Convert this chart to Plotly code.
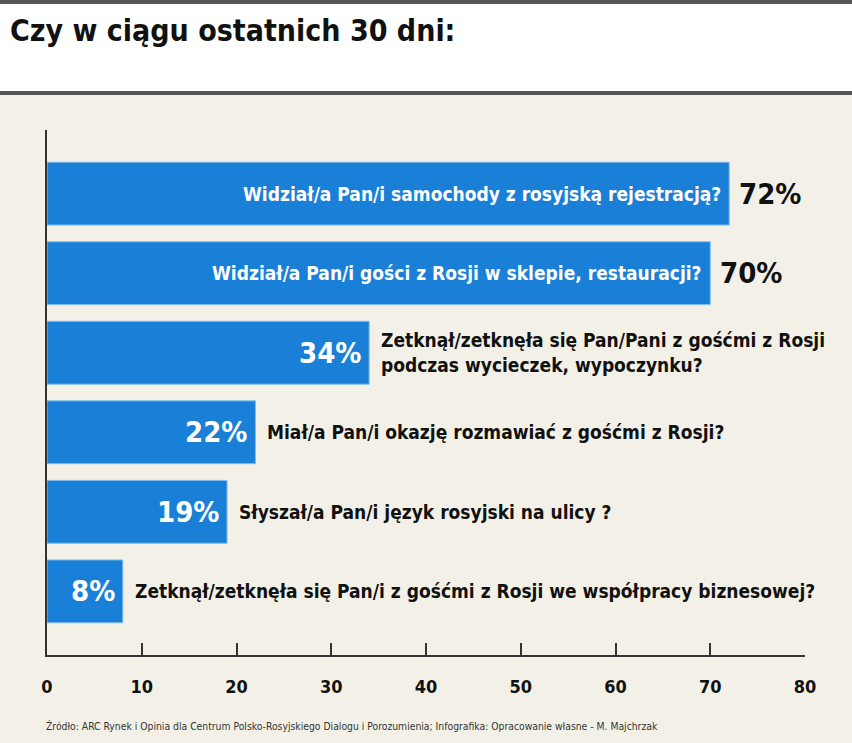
import plotly.graph_objects as go

questions = [
    "Widział/a Pan/i samochody z rosyjską rejestracją?",
    "Widział/a Pan/i gości z Rosji w sklepie, restauracji?",
    "Zetknął/zetknęła się Pan/Pani z gośćmi z Rosji<br>podczas wycieczek, wypoczynku?",
    "Miał/a Pan/i okazję rozmawiać z gośćmi z Rosji?",
    "Słyszał/a Pan/i język rosyjski na ulicy ?",
    "Zetknął/zetknęła się Pan/i z gośćmi z Rosji we współpracy biznesowej?",
]
values = [72, 70, 34, 22, 19, 8]
tick_values = [0, 10, 20, 30, 40, 50, 60, 70, 80]
title_text = "Czy w ciągu ostatnich 30 dni:"
source_text = ("Źródło: ARC Rynek i Opinia dla Centrum Polsko-Rosyjskiego Dialogu i Porozumienia; "
               "Infografika: Opracowanie własne - M. Majchrzak")

W, H = 852, 743
ML, MR, MT, MB = 47, 47, 130, 88
BLUE = "#1a7fd6"
BG = "#f3f1e7"
FONT = "DejaVu Sans Condensed, Liberation Sans Narrow, Arial Narrow, sans-serif"

def py(p):
    return (H - MB - p) / (H - MT - MB)

def px(p):
    return (p - ML) / (W - ML - MR)

pos = list(range(len(questions)))

fig = go.Figure()
fig.add_trace(go.Bar(
    x=values, y=pos, orientation="h", width=0.79,
    marker=dict(color=BLUE, line=dict(color="#7fbdf0", width=1)),
    hoverinfo="skip",
))

annotations = []
for i, (q, v) in enumerate(zip(questions, values)):
    if v > 50:
        annotations.append(dict(x=v, y=i, xref="x", yref="y", text="<b>%s</b>" % q,
                                showarrow=False, xanchor="right", xshift=-6,
                                font=dict(family=FONT, size=19, color="white")))
        annotations.append(dict(x=v, y=i, xref="x", yref="y", text="<b>%d%%</b>" % v,
                                showarrow=False, xanchor="left", xshift=8,
                                font=dict(family=FONT, size=29, color="#111")))
    else:
        annotations.append(dict(x=v, y=i, xref="x", yref="y", text="<b>%d%%</b>" % v,
                                showarrow=False, xanchor="right", xshift=-6,
                                font=dict(family=FONT, size=29, color="white")))
        annotations.append(dict(x=v, y=i, xref="x", yref="y", text="<b>%s</b>" % q,
                                showarrow=False, xanchor="left", xshift=10, align="left",
                                font=dict(family=FONT, size=19, color="#111")))

annotations.append(dict(x=px(8), y=py(31), xref="paper", yref="paper", text="<b>%s</b>" % title_text,
                        showarrow=False, xanchor="left", yanchor="middle",
                        font=dict(family=FONT, size=30, color="#111")))
annotations.append(dict(x=px(44), y=py(726), xref="paper", yref="paper", text=source_text,
                        showarrow=False, xanchor="left", yanchor="middle",
                        font=dict(family=FONT, size=10.3, color="#333")))

shapes = [
    dict(type="rect", xref="paper", yref="paper", x0=px(0), x1=px(W), y0=py(92), y1=py(0),
         fillcolor="white", line=dict(width=0), layer="below"),
    dict(type="rect", xref="paper", yref="paper", x0=px(0), x1=px(W), y0=py(4), y1=py(0),
         fillcolor="#555", line=dict(width=0)),
    dict(type="rect", xref="paper", yref="paper", x0=px(0), x1=px(W), y0=py(95), y1=py(91),
         fillcolor="#555", line=dict(width=0)),
]

fig.update_layout(
    width=W, height=H,
    margin=dict(l=ML, r=MR, t=MT, b=MB),
    paper_bgcolor=BG, plot_bgcolor=BG,
    showlegend=False,
    annotations=annotations,
    shapes=shapes,
    xaxis=dict(range=[0, 80], tickvals=tick_values, ticks="inside", ticklen=12, tickwidth=2,
               tickcolor="#333", showline=True, linecolor="#333", linewidth=2,
               showgrid=False, zeroline=False, ticklabelstandoff=14,
               tickfont=dict(family=FONT, size=18, color="#111", weight="bold")),
    yaxis=dict(range=[5.8, -0.8], showticklabels=False, ticks="", showline=True,
               linecolor="#333", linewidth=2, showgrid=False, zeroline=False),
)

fig.write_html("out.html", config={"displayModeBar": False},
               post_script="document.body.style.margin='0';document.body.style.overflow='hidden';")
